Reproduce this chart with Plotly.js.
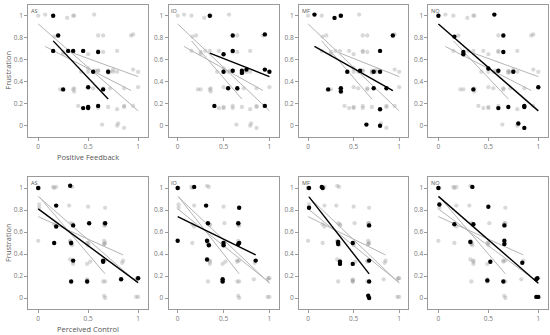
<!DOCTYPE html>
<html>
<head>
<meta charset="utf-8">
<script src="https://cdn.plot.ly/plotly-3.0.1.min.js"></script>
<style>html,body{margin:0;padding:0;background:#fff;}#chart{width:550px;height:335px;}</style>
</head>
<body>
<div id="chart"></div>
<script>
// ---------------- DATA ----------------
const groups = ['AS', 'IO', 'MF', 'NO'];

// Row 1: Positive Feedback vs Frustration
const pfAS_x = [0.15,0.20,0.15,0.30,0.35,0.45,0.60,0.55,0.70,0.25,0.50,0.65,0.45,0.50,0.50,0.60];
const pfAS_y = [1.00,0.82,0.68,0.68,0.68,0.68,0.67,0.49,0.49,0.33,0.35,0.33,0.16,0.17,0.16,0.18];
const pfIO_x = [0.35,0.60,0.95,0.60,0.50,0.50,0.60,0.70,0.70,0.75,0.95,1.00,0.55,0.65,0.40,0.95];
const pfIO_y = [1.00,0.82,0.83,0.68,0.65,0.49,0.50,0.50,0.48,0.51,0.51,0.49,0.34,0.34,0.18,0.18];
const pfMF_x = [0.07,0.29,0.36,0.93,0.79,0.43,0.57,0.72,0.79,0.22,0.36,0.36,0.72,0.86,0.79,0.64,0.79];
const pfMF_y = [1.01,0.98,1.00,0.82,0.68,0.49,0.50,0.49,0.49,0.33,0.34,0.31,0.34,0.34,0.15,0.01,0.00];
const pfNO_x = [0.00,0.56,0.16,0.65,0.25,0.25,0.65,0.50,0.60,0.75,1.00,0.35,0.60,0.70,0.86,0.86,0.80,0.86];
const pfNO_y = [1.00,1.01,0.81,0.82,0.67,0.65,0.67,0.52,0.50,0.49,0.35,0.33,0.16,0.17,0.18,0.17,0.02,-0.02];
const pfIntercept = [0.915, 0.776, 0.753, 0.925];
const pfSlope = [-0.96, -0.33, -0.466, -0.79];

// Row 2: Perceived Control vs Frustration
const pcAS_x = [0.00,0.32,0.18,0.18,0.35,0.51,0.67,0.16,0.33,0.35,0.65,0.65,0.33,0.49,0.83,1.00];
const pcAS_y = [1.00,1.02,0.84,0.65,0.66,0.68,0.68,0.50,0.50,0.34,0.34,0.33,0.15,0.15,0.17,0.18];
const pcIO_x = [0.00,0.18,0.31,0.67,0.33,0.66,0.00,0.32,0.34,0.50,0.50,0.66,0.67,0.32,0.49,0.49,0.85];
const pcIO_y = [1.00,1.01,0.84,0.82,0.68,0.68,0.52,0.52,0.48,0.50,0.48,0.49,0.50,0.35,0.17,0.15,0.34];
const pcMF_x = [0.01,0.15,0.16,0.01,0.67,0.33,0.33,0.49,0.35,0.35,0.49,0.67,0.67,0.66,0.67];
const pcMF_y = [1.00,1.01,1.00,0.82,0.66,0.51,0.49,0.50,0.33,0.31,0.31,0.34,0.15,0.02,0.00];
const pcNO_x = [0.00,0.34,0.01,0.50,0.16,0.35,0.66,0.32,0.66,0.66,0.52,0.84,0.49,0.65,0.98,0.99,0.98,1.00];
const pcNO_y = [1.00,1.01,0.85,0.83,0.67,0.67,0.66,0.51,0.52,0.49,0.33,0.32,0.16,0.15,0.17,0.18,0.01,0.01];
const pcIntercept = [0.81, 0.74, 0.93, 0.924];
const pcSlope = [-0.67, -0.41, -1.06, -0.79];

const xTickVals = [0, 0.5, 1];
const xTickText = ['0', '0.5', '1'];
const yTickVals = [0, 0.2, 0.4, 0.6, 0.8, 1];
const yTickText = ['0', '0.2', '0.4', '0.6', '0.8', '1'];
const rowXTitles = ['Positive Feedback', 'Perceived Control'];
const yTitle = 'Frustration';

// ---------------- BUILD ----------------
const rows = [
  {xs: [pfAS_x, pfIO_x, pfMF_x, pfNO_x], ys: [pfAS_y, pfIO_y, pfMF_y, pfNO_y], b: pfIntercept, m: pfSlope},
  {xs: [pcAS_x, pcIO_x, pcMF_x, pcNO_x], ys: [pcAS_y, pcIO_y, pcMF_y, pcNO_y], b: pcIntercept, m: pcSlope}
];

const W = 550, H = 335;
const colPx = [[28.2, 148.1], [168.5, 278.6], [299, 408.3], [428.4, 548.3]];
const rowPx = [[4.7, 136.7], [177, 309]];

const FONT = 'Open Sans, DejaVu Sans, sans-serif';
const traces = [];
const layout = {
  width: W, height: H,
  margin: {l: 0, r: 0, t: 0, b: 0},
  paper_bgcolor: '#fff', plot_bgcolor: '#fff',
  showlegend: false,
  font: {family: FONT},
  annotations: []
};

function fitLine(xArr, b, m) {
  const lo = Math.min(...xArr), hi = Math.max(...xArr);
  return {x: [lo, hi], y: [b + m * lo, b + m * hi]};
}

rows.forEach((row, r) => {
  groups.forEach((g, p) => {
    const k = r * 4 + p + 1;
    const xa = 'x' + (k === 1 ? '' : k), ya = 'y' + (k === 1 ? '' : k);
    const xKey = 'xaxis' + (k === 1 ? '' : k), yKey = 'yaxis' + (k === 1 ? '' : k);
    const gx = [], gy = [];
    groups.forEach((g2, q) => {
      if (q !== p) { gx.push(...row.xs[q]); gy.push(...row.ys[q]); }
    });
    traces.push({type: 'scatter', mode: 'markers', x: gx, y: gy, xaxis: xa, yaxis: ya,
      marker: {size: 4.3, color: 'rgba(150,150,150,0.36)'}, hoverinfo: 'skip'});
    groups.forEach((g2, q) => {
      if (q === p) return;
      const L = fitLine(row.xs[q], row.b[q], row.m[q]);
      traces.push({type: 'scatter', mode: 'lines', x: L.x, y: L.y, xaxis: xa, yaxis: ya,
        line: {color: '#b4b4b4', width: 1}, hoverinfo: 'skip'});
    });
    traces.push({type: 'scatter', mode: 'markers', x: row.xs[p], y: row.ys[p], xaxis: xa, yaxis: ya,
      marker: {size: 4.4, color: '#000'}});
    const L = fitLine(row.xs[p], row.b[p], row.m[p]);
    traces.push({type: 'scatter', mode: 'lines', x: L.x, y: L.y, xaxis: xa, yaxis: ya,
      line: {color: '#000', width: 1.4}, hoverinfo: 'skip'});

    const common = {
      range: [-0.1, 1.1], showgrid: false, zeroline: false,
      showline: true, mirror: true, linecolor: '#9a9a9a', linewidth: 1,
      ticks: 'outside', ticklen: 3, tickcolor: '#9a9a9a', tickwidth: 1,
      tickfont: {size: 6.5, color: '#777', family: FONT}, fixedrange: true
    };
    layout[xKey] = Object.assign({}, common, {
      domain: [colPx[p][0] / W, colPx[p][1] / W], anchor: ya,
      tickvals: xTickVals, ticktext: xTickText
    });
    layout[yKey] = Object.assign({}, common, {
      domain: [1 - rowPx[r][1] / H, 1 - rowPx[r][0] / H], anchor: xa,
      tickvals: yTickVals, ticktext: yTickText
    });
    layout.annotations.push({text: g, xref: xa + ' domain', yref: ya + ' domain', x: 0.005, y: 1.0,
      xanchor: 'left', yanchor: 'top', showarrow: false, font: {size: 5.5, color: '#555', family: FONT}});
  });
  // row titles
  layout.annotations.push({text: yTitle, xref: 'paper', yref: 'paper', x: 8 / W,
    y: 1 - (rowPx[r][0] + rowPx[r][1]) / 2 / H, textangle: -90, showarrow: false,
    xanchor: 'center', yanchor: 'middle', font: {size: 7.5, color: '#555', family: FONT}});
  layout.annotations.push({text: rowXTitles[r], xref: 'paper', yref: 'paper',
    x: (colPx[0][0] + colPx[0][1]) / 2 / W, y: 1 - (rowPx[r][1] + 20) / H, showarrow: false,
    xanchor: 'center', yanchor: 'middle', font: {size: 7.5, color: '#555', family: FONT}});
});

Plotly.newPlot('chart', traces, layout, {staticPlot: true, displayModeBar: false});
</script>
</body>
</html>
